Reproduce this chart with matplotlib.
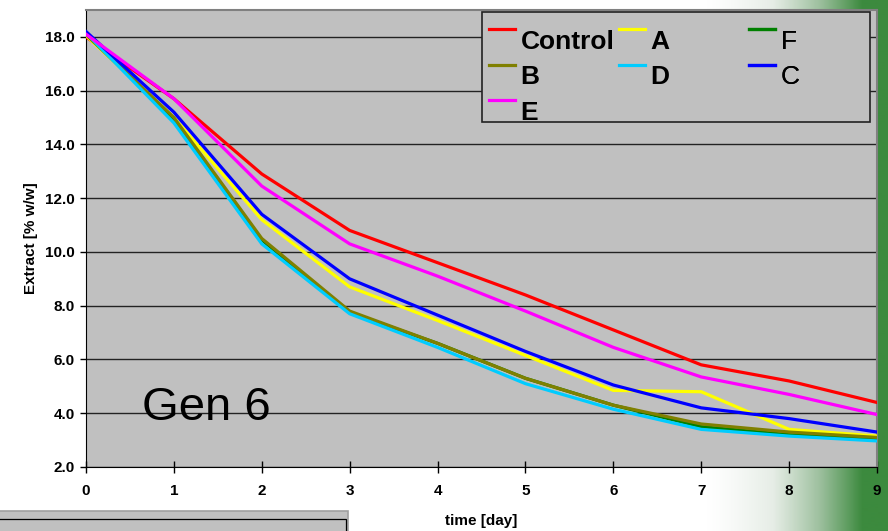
import numpy as np
import matplotlib.pyplot as plt
from matplotlib.colors import LinearSegmentedColormap
from matplotlib.patches import Rectangle
from matplotlib.legend_handler import HandlerLine2D

plt.rcParams['font.family'] = ['Liberation Sans', 'DejaVu Sans']

# extract over the fermentation, one series per strain
days = [0, 1, 2, 3, 4, 5, 6, 7, 8, 9]
control = [18.0, 15.7, 12.9, 10.8, 9.6, 8.4, 7.1, 5.8, 5.2, 4.4]
strain_a = [18.05, 15.0, 11.2, 8.7, 7.45, 6.15, 4.85, 4.8, 3.4, 3.15]
strain_f = [18.1, 14.95, 10.45, 7.75, 6.6, 5.3, 4.3, 3.5, 3.2, 3.05]
strain_b = [18.1, 15.0, 10.5, 7.8, 6.6, 5.3, 4.3, 3.6, 3.3, 3.1]
strain_d = [18.15, 14.8, 10.3, 7.7, 6.45, 5.1, 4.15, 3.4, 3.15, 2.97]
strain_c = [18.2, 15.2, 11.4, 9.0, 7.65, 6.3, 5.05, 4.2, 3.8, 3.3]
strain_e = [18.1, 15.7, 12.45, 10.3, 9.1, 7.8, 6.45, 5.35, 4.7, 3.95]

y_ticks = [2.0, 4.0, 6.0, 8.0, 10.0, 12.0, 14.0, 16.0, 18.0]

series = [
    ('Control', control, '#FF0000', 'bold'),
    ('A', strain_a, '#FFFF00', 'bold'),
    ('F', strain_f, '#008000', 'normal'),
    ('B', strain_b, '#808000', 'bold'),
    ('D', strain_d, '#00CCFF', 'bold'),
    ('C', strain_c, '#0000FF', 'normal'),
    ('E', strain_e, '#FF00FF', 'bold'),
]
weights = {name: w for name, _, _, w in series}


class RaisedLine(HandlerLine2D):
    """Legend key drawn above the middle of its label."""

    def create_artists(self, legend, orig_handle, xdescent, ydescent,
                       width, height, fontsize, trans):
        arts = super().create_artists(legend, orig_handle, xdescent, ydescent,
                                      width, height, fontsize, trans)
        for a in arts:
            a.set_ydata(np.asarray(a.get_ydata()) + 0.40 * fontsize)
        return arts


fig = plt.figure(figsize=(8.88, 5.31), dpi=100)

# slide background: white fading into green on the right
bg = fig.add_axes([0, 0, 1, 1], zorder=-10)
xs = np.linspace(0, 888, 888)
t = np.clip((xs - 705) / (862 - 705), 0, 1) ** 1.3
grad = np.tile(t, (10, 1))
cmap = LinearSegmentedColormap.from_list(
    'slide', ['#FFFFFF', '#E6EDE6', '#9CBF9D', '#3C8A3E'])
bg.imshow(grad, cmap=cmap, aspect='auto', extent=[0, 1, 0, 1], vmin=0, vmax=1)
bg.set_axis_off()

# edge of the box sitting below the chart
fig.patches.append(Rectangle((-0.01, -0.01), 348 / 888 + 0.01, (531 - 511) / 531 + 0.01,
                             transform=fig.transFigure, facecolor='#C0C0C0',
                             edgecolor='#A0A0A0', lw=1.2, zorder=1))
fig.patches.append(Rectangle((-0.01, -0.01), 346 / 888 + 0.01, (531 - 519) / 531 + 0.01,
                             transform=fig.transFigure, facecolor='none',
                             edgecolor='#000000', lw=0.9, zorder=2))

ax = fig.add_axes([86 / 888, 64 / 531, 791 / 888, 457 / 531])
ax.set_facecolor('#C0C0C0')

handles = {}
for i, (name, vals, color, weight) in enumerate(series):
    line, = ax.plot(days, vals, color=color, lw=2.3, label=name,
                    zorder=3 + i, solid_joinstyle='miter')
    handles[name] = line

ax.set_xlim(0, 9)
ax.set_ylim(2, 19)
ax.set_xticks(days)
ax.set_yticks(y_ticks)
ax.set_yticklabels([f'{v:.1f}' for v in y_ticks])
ax.grid(axis='y', color='#222222', lw=1.0)
ax.set_axisbelow(True)

ax.tick_params(axis='x', direction='inout', length=8, width=1, labelsize=11, pad=8)
ax.tick_params(axis='y', direction='out', length=4, width=1, labelsize=11, pad=4)
for lab in ax.get_xticklabels() + ax.get_yticklabels():
    lab.set_fontweight('bold')

for side in ['left', 'bottom']:
    ax.spines[side].set_color('#000000')
for side in ['top', 'right']:
    ax.spines[side].set_color('#808080')
    ax.spines[side].set_linewidth(1.5)

ax.set_xlabel('time [day]', fontsize=11, fontweight='bold', labelpad=12)
ax.set_ylabel('Extract [% w/w]', fontsize=11, fontweight='bold', labelpad=5)

ax.text(0.64, 3.75, 'Gen 6', fontsize=34, color='black', zorder=20)

# legend box with three columns, filled row by row
ax.add_patch(Rectangle((396 / 791, 1 - 112 / 457), 388 / 791, 110 / 457,
                       transform=ax.transAxes, facecolor='#C0C0C0',
                       edgecolor='#222222', lw=1.2, zorder=25))
columns = [['Control', 'B', 'E'], ['A', 'D'], ['F', 'C']]
col_x = [403 / 791, 533 / 791, 663 / 791]
for names, x0 in zip(columns, col_x):
    leg = ax.legend([handles[n] for n in names], names, loc='upper left',
                    bbox_to_anchor=(x0, 1 - 20 / 457), frameon=False,
                    fontsize=19, handlelength=1.0, handletextpad=0.2,
                    labelspacing=0.43, borderpad=0, borderaxespad=0,
                    handler_map={h: RaisedLine() for h in handles.values()})
    leg.set_zorder(30)
    for txt in leg.get_texts():
        txt.set_fontweight(weights[txt.get_text()])
    ax.add_artist(leg)

fig.savefig('out.png', dpi=100)
